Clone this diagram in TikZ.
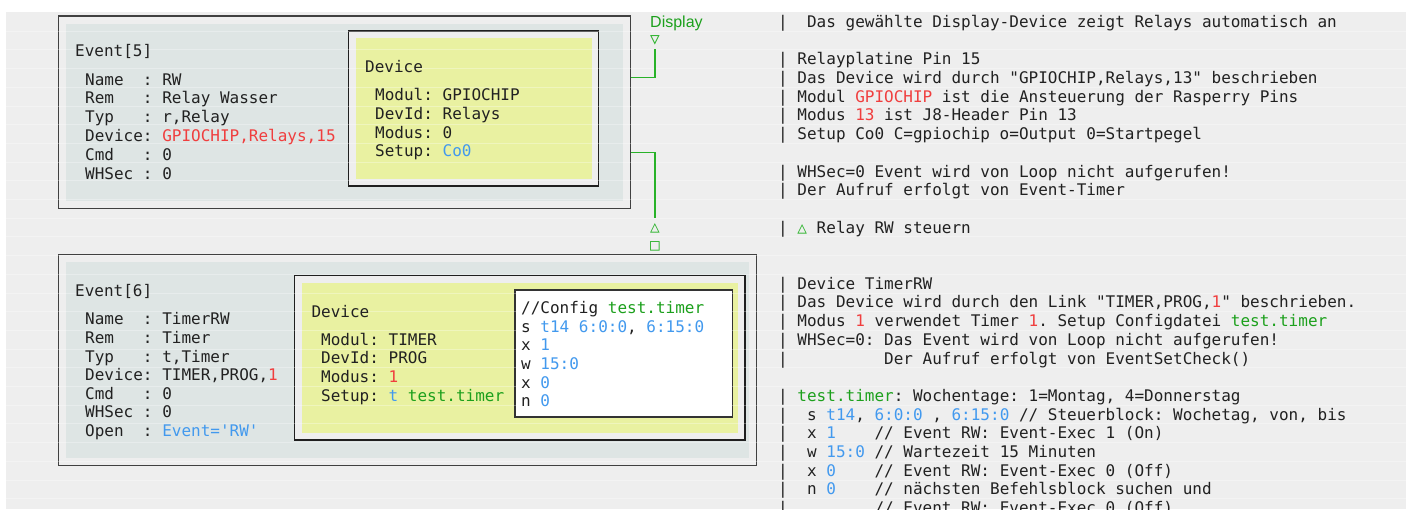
\documentclass[tikz,border=0pt]{standalone}
\usepackage{fontspec}
\setmonofont{DejaVu Sans Mono}
\newfontfamily\dispfont{Liberation Sans}
\usepackage{tikz}
\definecolor{bgrey}{HTML}{EEEEEE}
\definecolor{panel}{RGB}{222,229,228}
\definecolor{yel}{RGB}{233,241,161}
\definecolor{cr}{RGB}{240,62,62}
\definecolor{cb}{RGB}{66,153,238}
\definecolor{cg}{RGB}{28,160,28}
\definecolor{wirec}{RGB}{40,178,40}
\newcommand\cred[1]{\textcolor{cr}{#1}}
\newcommand\cblu[1]{\textcolor{cb}{#1}}
\newcommand\cgrn[1]{\textcolor{cg}{#1}}
\newcommand\montxt{\fontsize{16}{18.7}\selectfont\ttfamily\frenchspacing}

\begin{document}
\begin{tikzpicture}[x=1pt,y=-1pt,
  txt/.style={anchor=base west,inner sep=0pt,font=\montxt,text=black!87},
  outbox/.style={draw=black!75,line width=1.3pt,fill=bgrey,anchor=north west,inner sep=0pt,outer sep=0pt},
  devbox/.style={draw=black!88,line width=1.2pt,fill=bgrey,anchor=north west,inner sep=0pt,outer sep=0pt},
  cfgbox/.style={draw=black!80,line width=1.2pt,fill=white,anchor=north west,inner sep=0pt,outer sep=0pt},
  sign/.style={inner sep=0pt,outer sep=0pt,font=\montxt,text=wirec,minimum width=10pt},
  wire/.style={draw=wirec,line width=1.6pt},
  rowline/.style={white,opacity=0.3,line width=0.6pt}]
\useasboundingbox (0,0) rectangle (1411,509);
\clip (0,0) rectangle (1411,509);
\fill[white] (0,0) rectangle (1411,509);
\fill[bgrey] (6,11.7) rectangle (1406,509);

\node[outbox,minimum width=572.4pt,minimum height=192.7pt] (ev5) at (58.3,16) {};
\fill[panel] (66,24) rectangle (623,201);
\node[devbox,minimum width=250pt,minimum height=155pt] (dv5) at (348.3,31) {};
\fill[yel] (356,38.3) rectangle (591.5,179);

\node[outbox,minimum width=698.2pt,minimum height=211.2pt] (ev6) at (58.3,254.3) {};
\fill[panel] (66,262) rectangle (749,457.5);
\node[devbox,minimum width=450.5pt,minimum height=164.8pt] (dv6) at (294.5,275.2) {};
\fill[yel] (302,283.3) rectangle (738,433);
\node[cfgbox,minimum width=217.3pt,minimum height=127pt] (cfg) at (515,290) {};

\foreach \k in {1,...,26}
  \draw[rowline] (6,{12.3+18.7*\k}) -- (1406,{12.3+18.7*\k});

\node[txt] (e5) at (75,56.8) {Event[5]};
\node[txt] (e5a) at (85,85.1) {Name~~:~RW};
\node[txt] (e5b) at (85,103.95) {Rem~~~:~Relay~Wasser};
\node[txt] (e5c) at (85,122.8) {Typ~~~:~r,Relay};
\node[txt] (e5d) at (85,141.65) {Device:~\cred{GPIOCHIP,Relays,15}};
\node[txt] (e5e) at (85,160.5) {Cmd~~~:~0};
\node[txt] (e5f) at (85,179.35) {WHSec~:~0};

\node[txt] (d5) at (365,72.2) {Device};
\node[txt] (d5a) at (375,100.8) {Modul:~GPIOCHIP};
\node[txt] (d5b) at (375,119.5) {DevId:~Relays};
\node[txt] (d5c) at (375,138.2) {Modus:~0};
\node[txt] (d5d) at (375,156.9) {Setup:~\cblu{Co0}};

\node[txt] (e6) at (75,296.5) {Event[6]};
\node[txt] (e6a) at (85,324.8) {Name~~:~TimerRW};
\node[txt] (e6b) at (85,343.4) {Rem~~~:~Timer};
\node[txt] (e6c) at (85,362.0) {Typ~~~:~t,Timer};
\node[txt] (e6d) at (85,380.7) {Device:~TIMER,PROG,\cred{1}};
\node[txt] (e6e) at (85,399.3) {Cmd~~~:~0};
\node[txt] (e6f) at (85,417.9) {WHSec~:~0};
\node[txt] (e6g) at (85,436.5) {Open~~:~\cblu{Event='RW'}};

\node[txt] (d6) at (311.3,317.5) {Device};
\node[txt] (d6a) at (321,345.1) {Modul:~TIMER};
\node[txt] (d6b) at (321,363.8) {DevId:~PROG};
\node[txt] (d6c) at (321,382.4) {Modus:~\cred{1}};
\node[txt] (d6d) at (321,401.1) {Setup:~\cblu{t}~\cgrn{test.timer}};

\node[txt] (c1) at (521,313.5) {//Config~\cgrn{test.timer}};
\node[txt] (c2) at (521,332.2) {s~\cblu{t14~6:0:0},~\cblu{6:15:0}};
\node[txt] (c3) at (521,350.8) {x~\cblu{1}};
\node[txt] (c4) at (521,369.5) {w~\cblu{15:0}};
\node[txt] (c5) at (521,388.1) {x~\cblu{0}};
\node[txt] (c6) at (521,406.8) {n~\cblu{0}};

\node[anchor=base west,inner sep=0pt,font=\dispfont\fontsize{16}{18}\selectfont,text=cg] (disp) at (650,27.3) {Display};
\node[sign,minimum height=18pt] (dn) at (655,40) {▽};
\node[sign,minimum height=20pt] (up) at (655,228.3) {△};
\node[sign] (sq) at (655,246.7) {□};
\draw[wire] (ev5.east |- 0,77.3) -| (dn);
\draw[wire] (ev5.east |- 0,152.3) -| (up);

\node[txt] (r0) at (778,27.4) {|~~Das gewählte Display-Device zeigt Relays automatisch an};
\node[txt] (r2) at (778,64.8) {|~Relayplatine Pin 15};
\node[txt] (r3) at (778,83.5) {|~Das Device wird durch "GPIOCHIP,Relays,13" beschrieben};
\node[txt] (r4) at (778,102.2) {|~Modul \cred{GPIOCHIP} ist die Ansteuerung der Rasperry Pins};
\node[txt] (r5) at (778,120.9) {|~Modus \cred{13} ist J8-Header Pin 13};
\node[txt] (r6) at (778,139.6) {|~Setup Co0 C=gpiochip o=Output 0=Startpegel};
\node[txt] (r8) at (778,177.0) {|~WHSec=0 Event wird von Loop nicht aufgerufen!};
\node[txt] (r9) at (778,195.7) {|~Der Aufruf erfolgt von Event-Timer};
\node[txt] (r11) at (778,233.1) {|~\textcolor{wirec}{△}~Relay RW steuern};
\node[txt] (r14) at (778,289.2) {|~Device TimerRW};
\node[txt] (r15) at (778,307.9) {|~Das Device wird durch den Link "TIMER,PROG,\cred{1}" beschrieben.};
\node[txt] (r16) at (778,326.6) {|~Modus \cred{1} verwendet Timer \cred{1}. Setup Configdatei \cgrn{test.timer}};
\node[txt] (r17) at (778,345.3) {|~WHSec=0: Das Event wird von Loop nicht aufgerufen!};
\node[txt] (r18) at (778,364.0) {|~~~~~~~~~~Der Aufruf erfolgt von EventSetCheck()};
\node[txt] (r20) at (778,401.4) {|~\cgrn{test.timer}: Wochentage: 1=Montag, 4=Donnerstag};
\node[txt] (r21) at (778,420.1) {|~~s \cblu{t14}, \cblu{6:0:0} , \cblu{6:15:0} // Steuerblock: Wochetag, von, bis};
\node[txt] (r22) at (778,438.8) {|~~x \cblu{1}~~~~// Event RW: Event-Exec 1 (On)};
\node[txt] (r23) at (778,457.5) {|~~w \cblu{15:0} // Wartezeit 15 Minuten};
\node[txt] (r24) at (778,476.2) {|~~x \cblu{0}~~~~// Event RW: Event-Exec 0 (Off)};
\node[txt] (r25) at (778,494.9) {|~~n \cblu{0}~~~~// nächsten Befehlsblock suchen und};
\node[txt] (r26) at (778,513.6) {|~~~~~~~~~// Event RW: Event-Exec 0 (Off)};
\end{tikzpicture}
\end{document}
